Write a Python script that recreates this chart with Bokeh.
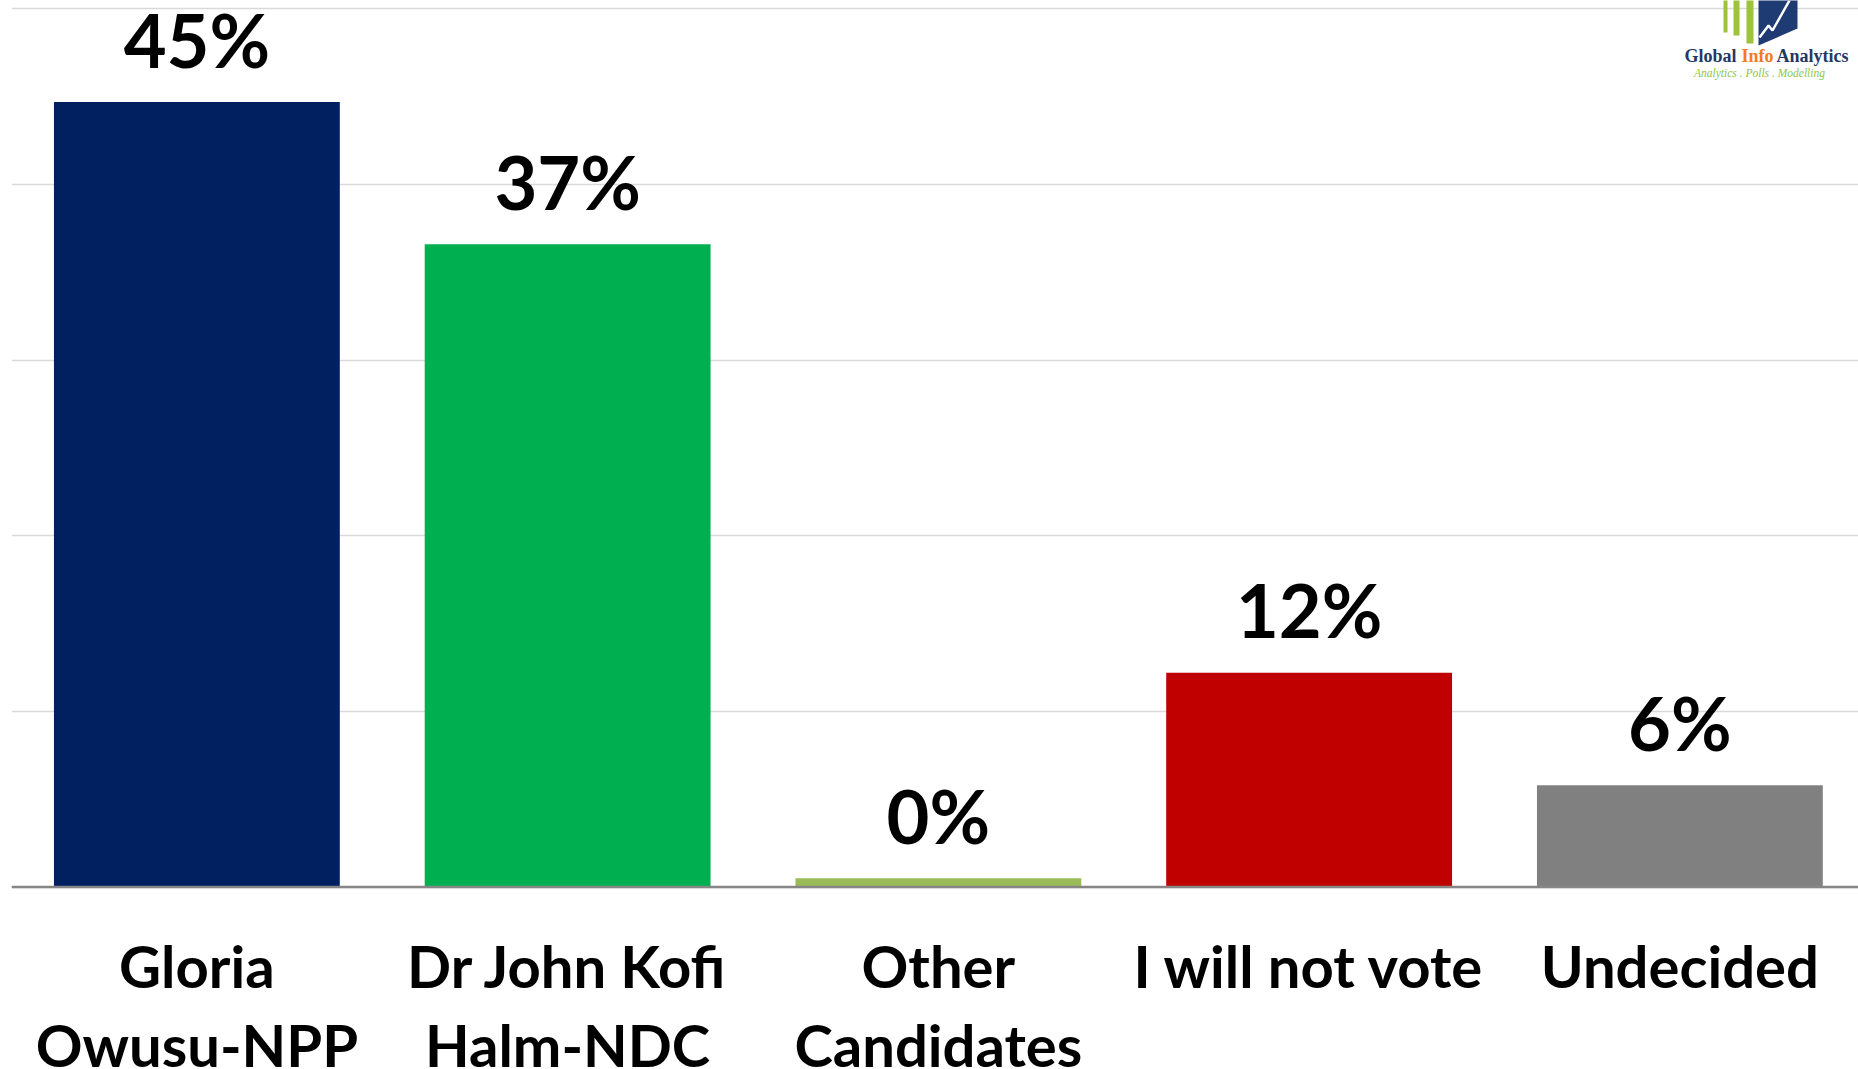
from bokeh.plotting import figure
from bokeh.models import Range1d, FixedTicker, Span
from bokeh.core.properties import value
from bokeh.embed import file_html
from bokeh.resources import INLINE

# ---------------- data ----------------
cat_line1 = ["Gloria", "Dr John Kofi", "Other", "I will not vote", "Undecided"]
cat_line2 = ["Owusu-NPP", "Halm-NDC", "Candidates", "", ""]
values = [44.7, 36.6, 0.5, 12.2, 5.8]
value_labels = ["45%", "37%", "0%", "12%", "6%"]
colors = ["#002060", "#00b050", "#9bbb59", "#c00000", "#808080"]
grid_ticks = [0, 10, 20, 30, 40, 50]

# ---------------- layout ----------------
W, H = 1858, 1069
PX_PER_CAT = 370.75
PX_PER_UNIT = 17.564
LEFT = 11
BASE_Y = 886.5          # page pixel row of the zero line
BL = 0.39               # baseline correction (fraction of font size)
frame_w = W - LEFT
x_start = -0.5
x_end = x_start + frame_w / PX_PER_CAT
y_end = BASE_Y / PX_PER_UNIT
y_start = -(H - BASE_Y) / PX_PER_UNIT

p = figure(width=W, height=H, output_backend="svg", toolbar_location=None,
           x_axis_location=None, y_axis_location=None,
           x_range=Range1d(x_start, x_end), y_range=Range1d(y_start, y_end),
           min_border_left=LEFT, min_border_right=0, min_border_top=0, min_border_bottom=0)
p.outline_line_color = None
p.background_fill_color = "white"
p.border_fill_color = "white"
p.xgrid.visible = False
p.ygrid.ticker = FixedTicker(ticks=grid_ticks)
p.ygrid.grid_line_color = "#d9d9d9"
p.ygrid.grid_line_width = 1.5

xs = list(range(len(values)))

p.vbar(x=xs, top=values, bottom=0, width=0.771, color=colors, line_color=None)

p.add_layout(Span(location=0, dimension="width", line_color="#868686", line_width=2.5))

font = value("Lato")
p.text(x=xs, y=values, text=value_labels, text_align="center", text_baseline="alphabetic",
       y_offset=-34 - BL * 74, text_font=font, text_font_style="bold", text_font_size="74px",
       text_color="black")

zeros = [0] * len(values)
p.text(x=xs, y=zeros, text=cat_line1, text_align="center", text_baseline="alphabetic",
       y_offset=101.5 - BL * 58, text_font=font, text_font_style="bold", text_font_size="58px",
       text_color="black")
p.text(x=xs, y=zeros, text=cat_line2, text_align="center", text_baseline="alphabetic",
       y_offset=180 - BL * 58, text_font=font, text_font_style="bold", text_font_size="58px",
       text_color="black")

# ---------------- logo (decoration, placed in page pixels) ----------------
def px(xp):
    return x_start + (xp - LEFT) / PX_PER_CAT

def py(yp):
    return (BASE_Y - yp) / PX_PER_UNIT

# green bars
bars_l = [1723, 1733, 1746]
bars_r = [1727, 1739, 1753]
bars_b = [32, 35, 43]
p.quad(left=[px(v) for v in bars_l], right=[px(v) for v in bars_r],
       top=[py(-2)] * 3, bottom=[py(v) for v in bars_b],
       color="#9dc33b", line_color=None)
# blue shape
p.patch(x=[px(v) for v in [1758, 1797, 1797, 1758]],
        y=[py(v) for v in [-2, -2, 28, 45]], color="#1f3b73", line_color=None)
# white zigzag
p.line(x=[px(v) for v in [1759, 1768, 1772, 1789]],
       y=[py(v) for v in [37, 25, 30, 0]], line_color="white", line_width=2.5)

serif = value("Liberation Serif")
for txt, xp, col in [("Global", 1684, "#1f3864"), ("Info", 1741, "#f47b20"),
                     ("Analytics", 1776, "#1f3864")]:
    p.text(x=[px(xp)], y=[py(63)], text=[txt], text_align="left", text_baseline="alphabetic",
           y_offset=-BL * 18, text_font=serif, text_font_style="bold", text_font_size="18px",
           text_color=col)
p.text(x=[px(1759)], y=[py(77)], text=["Analytics . Polls . Modelling"], text_align="center",
       text_baseline="alphabetic", y_offset=-BL * 11.5, text_font=serif, text_font_style="italic",
       text_font_size="11.5px", text_color="#8dc63f")

open("out.html", "w").write(file_html(p, INLINE))
